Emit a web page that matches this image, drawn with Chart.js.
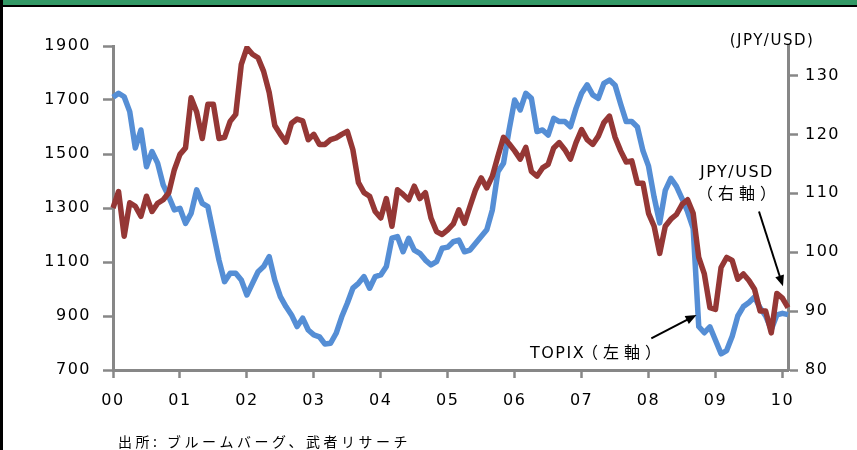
<!DOCTYPE html>
<html>
<head>
<meta charset="utf-8">
<script src="https://cdn.jsdelivr.net/npm/chart.js@4"></script>
<style>
body { margin: 0; background: #fff; }
canvas { display: block; }
</style>
</head>
<body>
<canvas id="c" width="857" height="450"></canvas>
<script>
// monthly, 2000/1 .. 2010/2
const topix = [
	1710, 1725, 1712, 1657, 1522, 1589, 1453, 1509, 1466, 1385, 1342, 1293,
	1299, 1243, 1280, 1367, 1317, 1305, 1206, 1107, 1027, 1058, 1058, 1033,
	978, 1021, 1064, 1083, 1120, 1033, 972, 935, 904, 861, 892, 848,
	830, 823, 796, 799, 836, 897, 947, 1003, 1021, 1046, 1003, 1046,
	1052, 1083, 1188, 1194, 1138, 1188, 1144, 1132, 1107, 1089, 1101, 1151,
	1155, 1175, 1181, 1138, 1144, 1169, 1194, 1219, 1293, 1434, 1466, 1589,
	1700, 1663, 1725, 1706, 1583, 1589, 1570, 1632, 1620, 1620, 1601, 1669,
	1725, 1756, 1719, 1706, 1762, 1774, 1755, 1685, 1620, 1620, 1600, 1512,
	1455, 1340, 1245, 1365, 1410, 1380, 1335, 1286, 1225, 861, 838, 860,
	810, 760, 772, 825, 900, 935, 950, 970, 930, 900, 850, 904,
	910, 905
];
const jpyusd = [
	107.5, 110.3, 102.7, 108.4, 107.8, 106.1, 109.5, 106.9, 108.3, 108.9, 110.1, 114.0,
	116.6, 117.7, 126.2, 123.8, 119.3, 125.1, 125.1, 119.3, 119.5, 122.2, 123.4, 131.9,
	134.7, 133.6, 133.0, 130.7, 127.1, 121.5, 120.0, 118.7, 121.9, 122.6, 122.3, 119.1,
	120.0, 118.3, 118.3, 119.1, 119.4, 120.0, 120.5, 117.4, 111.8, 110.1, 109.5, 106.9,
	105.8, 109.1, 104.4, 110.6, 109.8, 108.9, 111.2, 109.1, 110.1, 105.8, 103.5, 103.0,
	103.8, 104.8, 107.2, 104.9, 107.8, 110.6, 112.6, 110.9, 112.9, 116.3, 119.5, 118.4,
	117.2, 115.8, 117.8, 113.7, 112.9, 114.3, 114.9, 117.7, 118.6, 117.4, 115.8, 118.6,
	120.8, 119.1, 118.3, 119.7, 122.0, 123.1, 119.5, 117.2, 115.3, 115.5, 111.7, 111.7,
	106.6, 104.4, 99.8, 104.4, 105.6, 106.4, 108.1, 108.9, 106.6, 99.1, 96.3, 90.6,
	90.3, 97.4, 99.1, 98.6, 95.4, 96.3, 95.2, 93.7, 90.0, 90.0, 86.3, 93.0,
	92.2, 90.6
];
const years = ['00', '01', '02', '03', '04', '05', '06', '07', '08', '09', '10'];

const months = [];
years.forEach(y => {
	for (let m = 1; m <= 12; m++) months.push(y + '/' + m);
});
months.length = topix.length;

const axisGrey = '#878787';
const latin = '"DejaVu Sans", "Noto Sans CJK JP", sans-serif';
const cjk = '"Noto Sans CJK JP", sans-serif';

function txt(ctx, s, x, y, font, ls, align) {
	ctx.font = font;
	ctx.letterSpacing = ls + 'px';
	ctx.textAlign = align || 'left';
	ctx.textBaseline = 'alphabetic';
	ctx.fillText(s, x, y);
}

function arrow(ctx, x1, y1, x2, y2) {
	const a = Math.atan2(y2 - y1, x2 - x1);
	const c = Math.cos(a), s = Math.sin(a);
	ctx.beginPath();
	ctx.moveTo(x1, y1);
	ctx.lineTo(x2 - 7 * c, y2 - 7 * s);
	ctx.lineWidth = 2;
	ctx.stroke();
	ctx.beginPath();
	ctx.moveTo(x2, y2);
	ctx.lineTo(x2 - 11 * c + 4.5 * s, y2 - 11 * s - 4.5 * c);
	ctx.lineTo(x2 - 11 * c - 4.5 * s, y2 - 11 * s + 4.5 * c);
	ctx.closePath();
	ctx.fill();
}

const decor = {
	id: 'decor',
	beforeLayout(chart) {
		chart.ctx.letterSpacing = '1.5px';
	},
	beforeDraw(chart) {
		const ctx = chart.ctx;
		ctx.letterSpacing = '1.5px';
		ctx.save();
		ctx.fillStyle = '#339966';
		ctx.fillRect(0, 0, chart.width, 5);
		ctx.fillStyle = '#000';
		ctx.fillRect(0, 5, chart.width, 2);
		ctx.fillRect(0, 0, 3, chart.height);
		ctx.restore();
	},
	afterDraw(chart) {
		const ctx = chart.ctx;
		const x = chart.scales.x, yl = chart.scales.yL, yr = chart.scales.yR;
		ctx.save();
		ctx.fillStyle = '#000';
		ctx.strokeStyle = '#000';

		txt(ctx, '(JPY/USD)', 772, 45, '15px ' + latin, 1.5, 'center');
		txt(ctx, 'JPY/USD', 737, 177, '16px ' + latin, 1.5, 'center');
		txt(ctx, '（右軸）', 739, 199, '16px ' + cjk, 5, 'center');
		txt(ctx, 'TOPIX', 530, 358, '16px ' + latin, 1.5);
		txt(ctx, '（左軸）', 582, 358, '16px ' + cjk, 5);
		txt(ctx, '出所: ブルームバーグ、武者リサーチ', 118, 447, '14px ' + cjk, 3.5);

		ctx.letterSpacing = '0px';
		arrow(ctx, x.getPixelForValue(96.5), yl.getPixelForValue(817),
			x.getPixelForValue(104.6), yl.getPixelForValue(904));
		arrow(ctx, x.getPixelForValue(115.8), yr.getPixelForValue(106.9),
			x.getPixelForValue(120.1), yr.getPixelForValue(94.2));
		ctx.restore();
	}
};

const tickFont = { family: latin, size: 16 };

new Chart(document.getElementById('c'), {
	type: 'line',
	data: {
		labels: months,
		datasets: [{
			label: 'JPY/USD',
			data: jpyusd,
			yAxisID: 'yR',
			borderColor: '#953735',
			borderWidth: 5.5,
			pointRadius: 0,
			tension: 0,
			borderJoinStyle: 'round',
			order: 0,
		}, {
			label: 'TOPIX',
			data: topix,
			yAxisID: 'yL',
			borderColor: '#558ED5',
			borderWidth: 5.5,
			pointRadius: 0,
			tension: 0,
			borderJoinStyle: 'round',
			order: 1,
		}],
	},
	options: {
		responsive: false,
		animation: false,
		devicePixelRatio: 1,
		layout: { padding: { top: 46, left: 0, right: 0, bottom: 0 } },
		plugins: {
			legend: { display: false },
			tooltip: { enabled: false },
		},
		scales: {
			x: {
				type: 'category',
				offset: false,
				afterFit(s) { s.height = 80; },
				grid: { drawOnChartArea: false, color: axisGrey, tickLength: 8, tickWidth: 2.5 },
				border: { color: axisGrey, width: 3 },
				ticks: {
					autoSkip: false,
					maxRotation: 0,
					padding: 13,
					color: '#000',
					font: tickFont,
					callback(v) {
						const lab = this.getLabelForValue(v);
						return lab.endsWith('/1') ? lab.split('/')[0] : null;
					},
				},
			},
			yL: {
				position: 'left',
				min: 700,
				max: 1900,
				afterFit(s) { s.width = 113; },
				grid: { drawOnChartArea: false, color: axisGrey, tickLength: 10, tickWidth: 2.5 },
				border: { color: axisGrey, width: 3 },
				ticks: { stepSize: 200, padding: 12, color: '#000', font: tickFont, callback: v => String(v) },
			},
			yR: {
				position: 'right',
				min: 80,
				max: 135,
				afterFit(s) { s.width = 69; },
				grid: { drawOnChartArea: false, color: axisGrey, tickLength: 10, tickWidth: 2.5 },
				border: { color: axisGrey, width: 3 },
				ticks: { stepSize: 10, includeBounds: false, padding: 7, color: '#000', font: tickFont },
			},
		},
	},
	plugins: [decor],
});
</script>
</body>
</html>
